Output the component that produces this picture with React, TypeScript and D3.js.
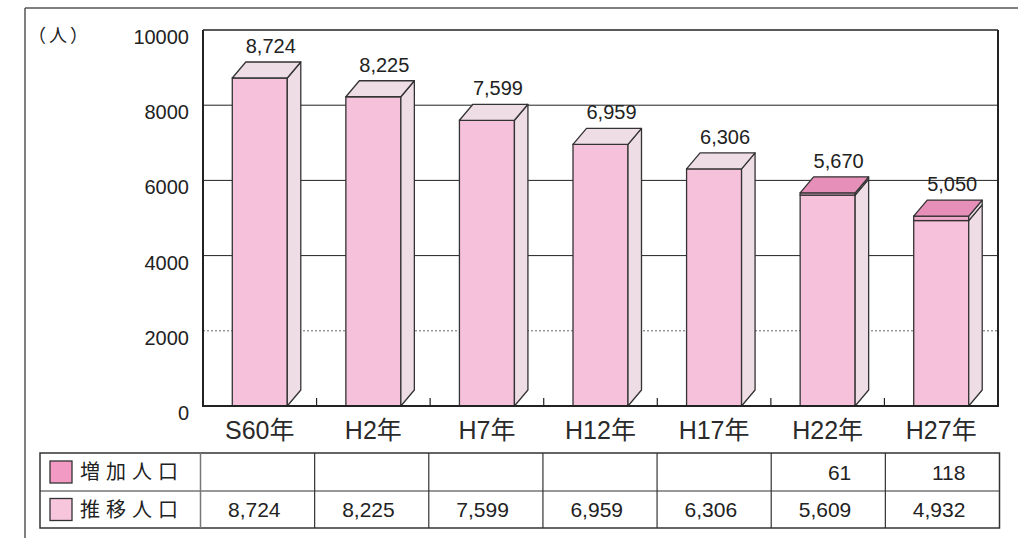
import React from "react";
import * as d3 from "d3";

const categories = ["S60年", "H2年", "H7年", "H12年", "H17年", "H22年", "H27年"];
const baseValues = [8724, 8225, 7599, 6959, 6306, 5609, 4932];
const increaseValues = [0, 0, 0, 0, 0, 61, 118];
const yTicks = [0, 2000, 4000, 6000, 8000, 10000];
const legendLabels = ["増加人口", "推移人口"];

const W = 1018;
const H = 538;
const plot = { left: 203, right: 998, top: 30, bottom: 406 };
const table = { left: 40, firstCol: 200.5, right: 999.5, top: 453, mid: 491, bottom: 528 };
const DX = 13.5;
const DY = 16;
const BAR_W = 55;

const C = {
  front: "#F6C1DA",
  side: "#EFDDE6",
  incFront: "#F1A9CA",
  incTop: "#E68FB8",
  swInc: "#F29AC4",
  swBase: "#F7C5DC",
  stroke: "#333",
  text: "#222",
};

const NUM_FONT = "'Liberation Sans', Arial, Helvetica, sans-serif";
const CJK_FONT = "'Liberation Sans', 'Noto Sans CJK JP', sans-serif";

const fmt = d3.format(",");

export default function App() {
  const x = d3.scaleBand<string>().domain(categories).range([plot.left, plot.right]).paddingInner(0).paddingOuter(0);
  const y = d3.scaleLinear().domain([0, 10000]).range([plot.bottom, plot.top]);
  const colX = d3.scaleBand<string>().domain(categories).range([table.firstCol, table.right]);

  const poly = (pts: [number, number][]) => pts.map((p) => p.join(",")).join(" ");

  const bars = categories.map((c, i) => {
    const cx = (x(c) as number) + x.bandwidth() / 2;
    const x0 = cx - BAR_W / 2;
    const x1 = cx + BAR_W / 2;
    const base = baseValues[i];
    const inc = increaseValues[i];
    const total = base + inc;
    const yB0 = y(0);
    const yB1 = y(base);
    const yT = y(total);
    const hasInc = inc > 0;
    return (
      <g key={c}>
        <rect x={x0} y={yB1} width={BAR_W} height={yB0 - yB1} fill={C.front} stroke={C.stroke} strokeWidth={1.3} />
        <polygon
          points={poly([[x1, yB0], [x1 + DX, yB0 - DY], [x1 + DX, yB1 - DY], [x1, yB1]])}
          fill={C.side}
          stroke={C.stroke}
          strokeWidth={1.3}
          strokeLinejoin="round"
        />
        {hasInc && (
          <>
            <rect x={x0} y={yT} width={BAR_W} height={yB1 - yT} fill={C.incFront} stroke={C.stroke} strokeWidth={1.3} />
            <polygon
              points={poly([[x1, yB1], [x1 + DX, yB1 - DY], [x1 + DX, yT - DY], [x1, yT]])}
              fill={C.side}
              stroke={C.stroke}
              strokeWidth={1.3}
              strokeLinejoin="round"
            />
          </>
        )}
        <polygon
          points={poly([[x0, yT], [x0 + DX, yT - DY], [x1 + DX, yT - DY], [x1, yT]])}
          fill={hasInc ? C.incTop : C.side}
          stroke={C.stroke}
          strokeWidth={1.3}
          strokeLinejoin="round"
        />
        <text x={cx + 11} y={yT - DY - 9} textAnchor="middle" fontSize={20} fontFamily={NUM_FONT} fill={C.text}>
          {fmt(total)}
        </text>
      </g>
    );
  });

  const rowY = [(table.top + table.mid) / 2, (table.mid + table.bottom) / 2];
  const rowsData = [increaseValues, baseValues];
  const swatchColors = [C.swInc, C.swBase];

  return (
    <svg width={W} height={H} style={{ position: "absolute", left: 0, top: 0, background: "#fff" }}>
      <line x1={25} y1={8} x2={W} y2={8} stroke="#555" strokeWidth={1.5} />
      <line x1={25} y1={8} x2={25} y2={H} stroke="#555" strokeWidth={1.5} />

      <text x={28} y={42} fontSize={18} letterSpacing={3} fontFamily="'Noto Sans CJK JP', sans-serif" fill={C.text}>
        （人）
      </text>

      {yTicks
        .filter((t) => t > 0 && t < 10000)
        .map((t) => (
          <line
            key={t}
            x1={plot.left}
            x2={plot.right}
            y1={y(t)}
            y2={y(t)}
            stroke={t === 2000 ? "#666" : "#222"}
            strokeWidth={1}
            strokeDasharray={t === 2000 ? "2,2" : undefined}
          />
        ))}

      {yTicks.map((t) => (
        <text key={t} x={189} y={y(t) + 14} textAnchor="end" fontSize={20} fontFamily={NUM_FONT} fill={C.text}>
          {t}
        </text>
      ))}

      {bars}

      <line x1={plot.left} x2={plot.right} y1={plot.top} y2={plot.top} stroke="#222" strokeWidth={1.5} />
      <line x1={plot.right} x2={plot.right} y1={plot.top} y2={plot.bottom} stroke="#222" strokeWidth={2} />
      <line x1={plot.left} x2={plot.left} y1={plot.top} y2={plot.bottom} stroke="#222" strokeWidth={2} />
      <line x1={plot.left - 1} x2={plot.right + 1} y1={plot.bottom} y2={plot.bottom} stroke="#222" strokeWidth={2.2} />

      {categories.slice(1).map((c) => (
        <line key={c} x1={x(c) as number} x2={x(c) as number} y1={plot.bottom} y2={plot.bottom - 8} stroke="#222" strokeWidth={1.2} />
      ))}

      {categories.map((c) => (
        <text
          key={c}
          x={(x(c) as number) + x.bandwidth() / 2}
          y={439}
          textAnchor="middle"
          fontSize={25}
          fontFamily={CJK_FONT}
          fill="#2a2a2a"
        >
          {c}
        </text>
      ))}

      <rect
        x={table.left}
        y={table.top}
        width={table.right - table.left}
        height={table.bottom - table.top}
        fill="none"
        stroke="#333"
        strokeWidth={1.5}
      />
      <line x1={table.left} x2={table.right} y1={table.mid} y2={table.mid} stroke="#333" strokeWidth={1.2} />
      <line x1={table.firstCol} x2={table.firstCol} y1={table.top} y2={table.bottom} stroke="#777" strokeWidth={1.5} />
      {categories.slice(1).map((c) => (
        <line key={c} x1={colX(c) as number} x2={colX(c) as number} y1={table.top} y2={table.bottom} stroke="#333" strokeWidth={1.2} />
      ))}

      {legendLabels.map((lab, r) => (
        <g key={lab}>
          <rect x={50} y={rowY[r] - 11} width={22} height={22} fill={swatchColors[r]} stroke="#333" strokeWidth={1.3} />
          <text x={80} y={rowY[r] + 7} fontSize={20} letterSpacing={6} fontFamily="'Noto Sans CJK JP', sans-serif" fill={C.text}>
            {lab}
          </text>
        </g>
      ))}

      {rowsData.map((vals, r) =>
        categories.map((c, i) =>
          vals[i] > 0 ? (
            <text
              key={`${r}-${c}`}
              x={(colX(c) as number) + colX.bandwidth() / 2 + 23}
              y={rowY[r] + 7.5}
              textAnchor="end"
              fontSize={21}
              fontFamily={NUM_FONT}
              fill={C.text}
            >
              {fmt(vals[i])}
            </text>
          ) : null
        )
      )}
    </svg>
  );
}
